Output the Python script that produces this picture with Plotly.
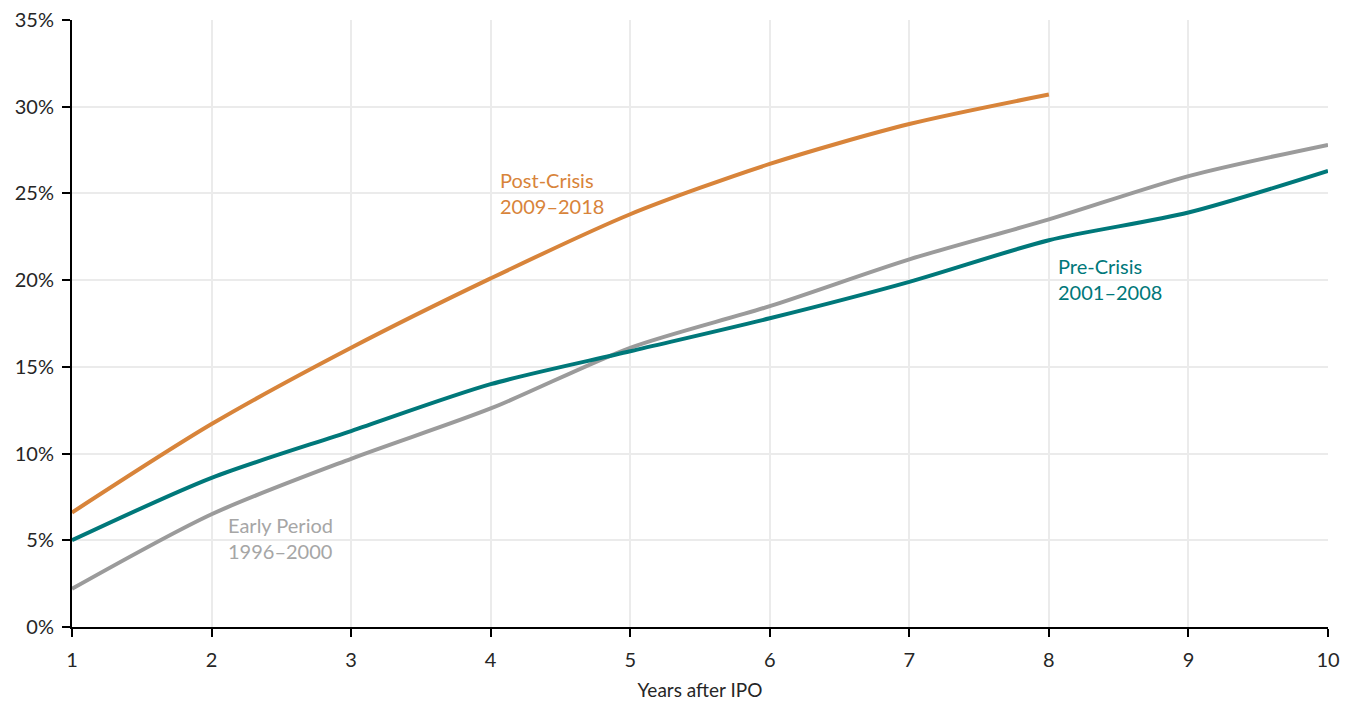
import plotly.graph_objects as go

years = [1, 2, 3, 4, 5, 6, 7, 8, 9, 10]
post_years = [1, 2, 3, 4, 5, 6, 7, 8]
post_crisis = [6.6, 11.7, 16.1, 20.1, 23.8, 26.7, 29.0, 30.7]
pre_crisis = [5.0, 8.6, 11.3, 14.0, 15.9, 17.8, 19.9, 22.3, 23.9, 26.3]
early_period = [2.2, 6.5, 9.7, 12.6, 16.1, 18.5, 21.2, 23.5, 26.0, 27.8]

y_ticks = [0, 5, 10, 15, 20, 25, 30, 35]
y_tick_labels = [f"{v}%" for v in y_ticks]

ORANGE = "#D8843A"
TEAL = "#00787A"
GRAY = "#9B9B9B"
FONT = "Lato, 'Open Sans', sans-serif"

fig = go.Figure()
fig.add_trace(go.Scatter(x=years, y=early_period, mode="lines",
                         line=dict(color=GRAY, width=4, shape="spline", smoothing=0.8),
                         name="Early Period", showlegend=False, hoverinfo="skip"))
fig.add_trace(go.Scatter(x=years, y=pre_crisis, mode="lines",
                         line=dict(color=TEAL, width=4, shape="spline", smoothing=0.8),
                         name="Pre-Crisis", showlegend=False, hoverinfo="skip"))
fig.add_trace(go.Scatter(x=post_years, y=post_crisis, mode="lines",
                         line=dict(color=ORANGE, width=4, shape="spline", smoothing=0.8),
                         name="Post-Crisis", showlegend=False, hoverinfo="skip"))

annots = [
    ("Post-Crisis<br>2009–2018", 4.05, 26.6, ORANGE),
    ("Pre-Crisis<br>2001–2008", 8.05, 21.6, TEAL),
    ("Early Period<br>1996–2000", 2.1, 6.7, "#A6A6A6"),
]
for text, x, y, c in annots:
    fig.add_annotation(x=x, y=y, text=text, showarrow=False, xanchor="left",
                       yanchor="top", align="left",
                       font=dict(family=FONT, size=20, color=c))

fig.update_layout(
    width=1352, height=703,
    margin=dict(l=72, r=24, t=20, b=76),
    paper_bgcolor="white", plot_bgcolor="white",
    font=dict(family=FONT, size=20, color="#262626"),
)
fig.update_xaxes(range=[1, 10], tickvals=years, showgrid=True, gridcolor="#EBEBEB",
                 gridwidth=1.5, showline=True, linecolor="black", linewidth=2,
                 ticks="outside", ticklen=8, tickcolor="black", tickwidth=1.5,
                 ticklabelstandoff=6, automargin=False,
                 zeroline=False, title=dict(text="Years after IPO", font=dict(size=19), standoff=14))
fig.update_yaxes(range=[0, 35], tickvals=y_ticks, ticktext=y_tick_labels, showgrid=True,
                 gridcolor="#EBEBEB", gridwidth=1.5, showline=True, linecolor="black",
                 linewidth=2, ticks="outside", ticklen=8, tickcolor="black", tickwidth=1.5,
                 ticklabelstandoff=4, automargin=False, zeroline=False)

fig.write_html("out.html", config={"displayModeBar": False})

with open("out.html", "r", encoding="utf-8") as f:
    html = f.read()
html = html.replace("<head>", "<head><style>html,body{margin:0;padding:0;overflow:hidden;}</style>", 1)
with open("out.html", "w", encoding="utf-8") as f:
    f.write(html)
